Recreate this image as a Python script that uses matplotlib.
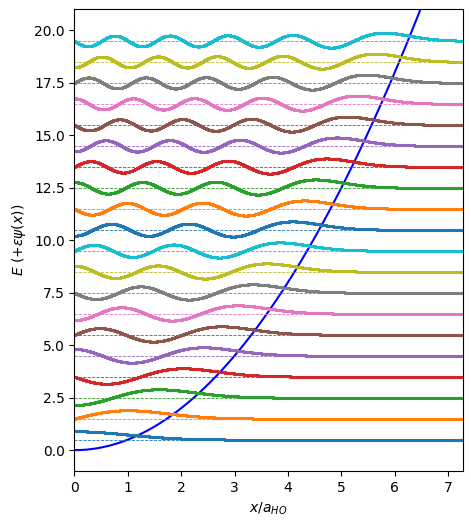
import numpy as np
import matplotlib
matplotlib.use("Agg")
import matplotlib.pyplot as plt

# quantum numbers and energy levels (in units of hbar*omega)
quantum_numbers = [0, 1, 2, 3, 4, 5, 6, 7, 8, 9, 10, 11, 12, 13, 14, 15, 16, 17, 18, 19]
energy_levels = [0.5, 1.5, 2.5, 3.5, 4.5, 5.5, 6.5, 7.5, 8.5, 9.5,
                 10.5, 11.5, 12.5, 13.5, 14.5, 15.5, 16.5, 17.5, 18.5, 19.5]
amplitude = 0.4   # epsilon: peak height of each drawn wavefunction
x_ticks = [0, 1, 2, 3, 4, 5, 6, 7]

x = np.linspace(0, 7.6, 1600)

# harmonic-oscillator eigenfunctions (Hermite functions) via recurrence
psi = []
p_prev = np.pi ** -0.25 * np.exp(-x ** 2 / 2)
p_cur = np.sqrt(2.0) * x * p_prev
psi.append(p_prev)
psi.append(p_cur)
for n in range(1, max(quantum_numbers)):
    p_next = np.sqrt(2.0 / (n + 1)) * x * p_cur - np.sqrt(n / (n + 1)) * p_prev
    psi.append(p_next)
    p_prev, p_cur = p_cur, p_next

fig = plt.figure(figsize=(4.71, 5.27), dpi=100)
ax = fig.add_axes([0.158, 0.106, 0.824, 0.876])

ax.plot(x, 0.5 * x ** 2, color='b', lw=1.5)
for n, E in zip(quantum_numbers, energy_levels):
    c = f'C{n % 10}'
    p = psi[n] / np.abs(psi[n]).max()
    ax.plot(x, E + amplitude * p, '.', color=c, ms=3.2, mew=0.6)
    ax.axhline(E, color=c, ls='--', lw=0.6)

ax.set_xlim(0, 7.27)
ax.set_ylim(-1, 21)
ax.set_xticks(x_ticks)
ax.set_xlabel(r'$x/a_{HO}$')
ax.set_ylabel(r'$E\ (+\epsilon\psi(x))$')

fig.savefig('out.png', dpi=100)
